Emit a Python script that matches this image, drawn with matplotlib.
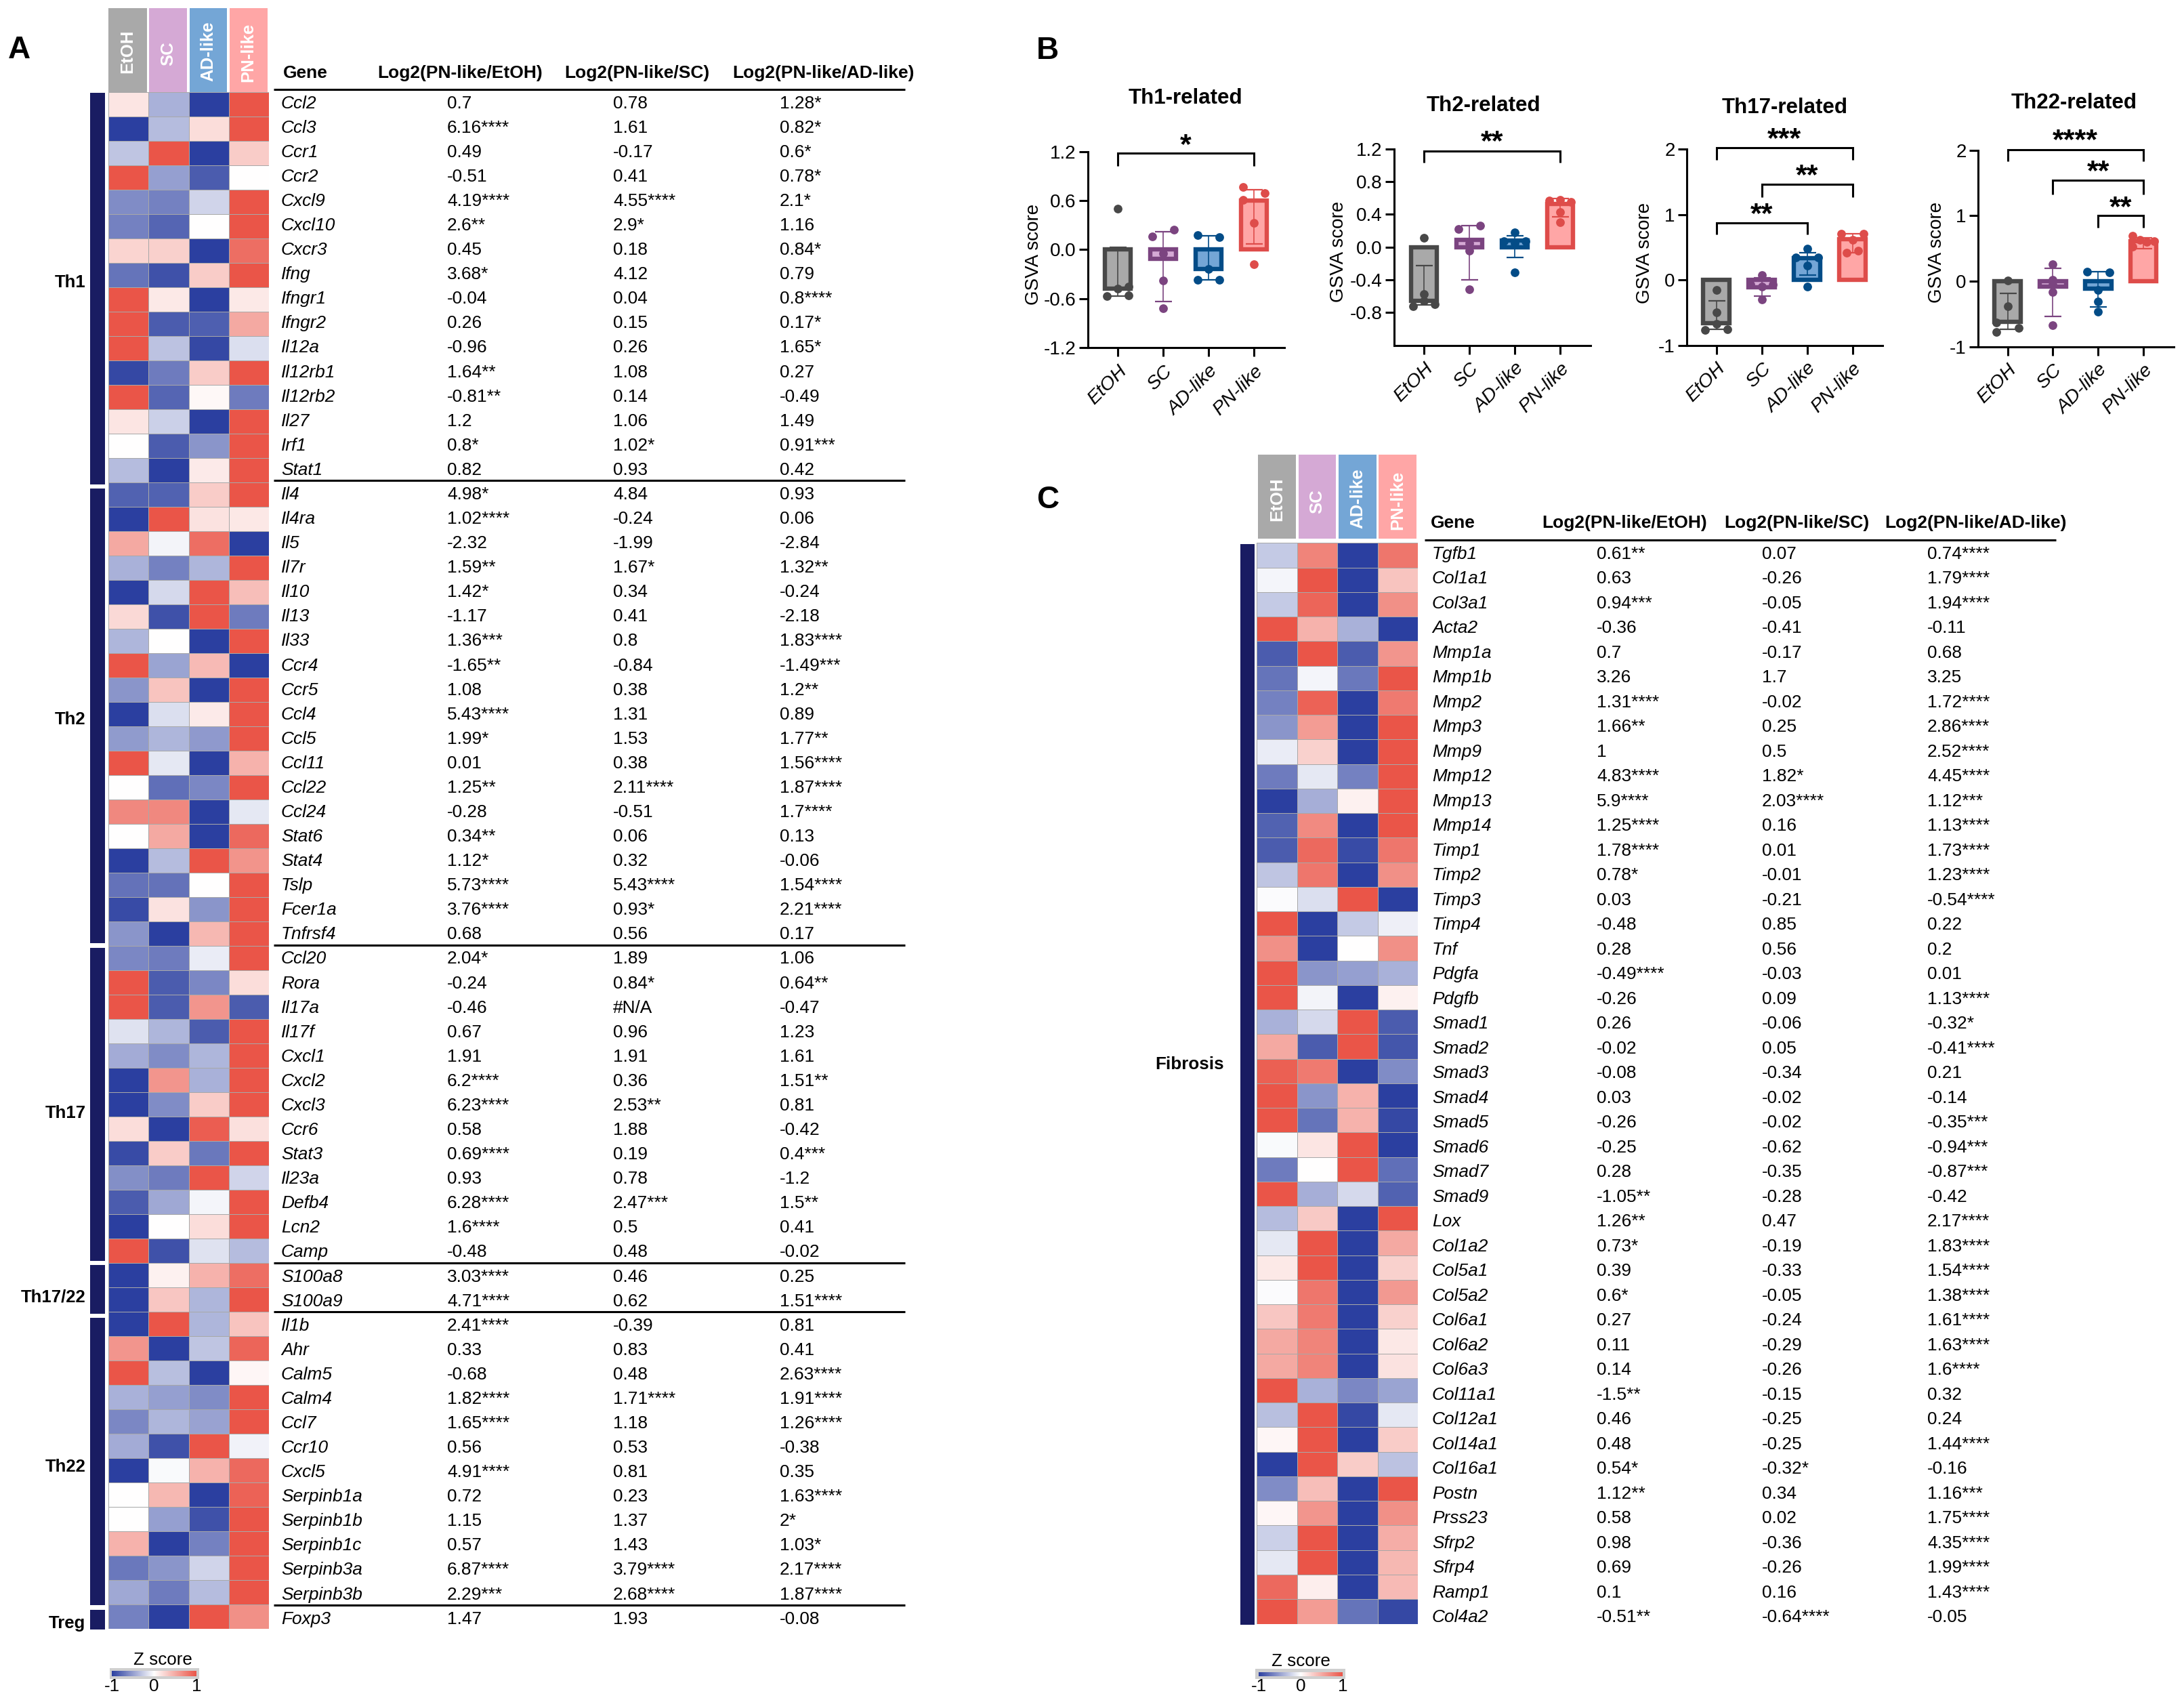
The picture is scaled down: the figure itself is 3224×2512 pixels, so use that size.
import matplotlib
matplotlib.use("Agg")
import matplotlib.pyplot as plt
import numpy as np
from matplotlib.colors import LinearSegmentedColormap
from matplotlib.patches import Rectangle
from matplotlib.transforms import ScaledTranslation

plt.rcParams['font.family'] = ['Liberation Sans', 'DejaVu Sans']

W, H = 3224, 2512
GROUPS = ['EtOH', 'SC', 'AD-like', 'PN-like']

# ---------- Panel A data ----------
GENES_A = ['Ccl2','Ccl3','Ccr1','Ccr2','Cxcl9','Cxcl10','Cxcr3','Ifng','Ifngr1','Ifngr2','Il12a','Il12rb1','Il12rb2','Il27','Irf1','Stat1',
 'Il4','Il4ra','Il5','Il7r','Il10','Il13','Il33','Ccr4','Ccr5','Ccl4','Ccl5','Ccl11','Ccl22','Ccl24','Stat6','Stat4','Tslp','Fcer1a','Tnfrsf4',
 'Ccl20','Rora','Il17a','Il17f','Cxcl1','Cxcl2','Cxcl3','Ccr6','Stat3','Il23a','Defb4','Lcn2','Camp',
 'S100a8','S100a9',
 'Il1b','Ahr','Calm5','Calm4','Ccl7','Ccr10','Cxcl5','Serpinb1a','Serpinb1b','Serpinb1c','Serpinb3a','Serpinb3b',
 'Foxp3']
ETOH_A = ['0.7','6.16****','0.49','-0.51','4.19****','2.6**','0.45','3.68*','-0.04','0.26','-0.96','1.64**','-0.81**','1.2','0.8*','0.82',
 '4.98*','1.02****','-2.32','1.59**','1.42*','-1.17','1.36***','-1.65**','1.08','5.43****','1.99*','0.01','1.25**','-0.28','0.34**','1.12*','5.73****','3.76****','0.68',
 '2.04*','-0.24','-0.46','0.67','1.91','6.2****','6.23****','0.58','0.69****','0.93','6.28****','1.6****','-0.48',
 '3.03****','4.71****',
 '2.41****','0.33','-0.68','1.82****','1.65****','0.56','4.91****','0.72','1.15','0.57','6.87****','2.29***',
 '1.47']
SC_A = ['0.78','1.61','-0.17','0.41','4.55****','2.9*','0.18','4.12','0.04','0.15','0.26','1.08','0.14','1.06','1.02*','0.93',
 '4.84','-0.24','-1.99','1.67*','0.34','0.41','0.8','-0.84','0.38','1.31','1.53','0.38','2.11****','-0.51','0.06','0.32','5.43****','0.93*','0.56',
 '1.89','0.84*','#N/A','0.96','1.91','0.36','2.53**','1.88','0.19','0.78','2.47***','0.5','0.48',
 '0.46','0.62',
 '-0.39','0.83','0.48','1.71****','1.18','0.53','0.81','0.23','1.37','1.43','3.79****','2.68****',
 '1.93']
AD_A = ['1.28*','0.82*','0.6*','0.78*','2.1*','1.16','0.84*','0.79','0.8****','0.17*','1.65*','0.27','-0.49','1.49','0.91***','0.42',
 '0.93','0.06','-2.84','1.32**','-0.24','-2.18','1.83****','-1.49***','1.2**','0.89','1.77**','1.56****','1.87****','1.7****','0.13','-0.06','1.54****','2.21****','0.17',
 '1.06','0.64**','-0.47','1.23','1.61','1.51**','0.81','-0.42','0.4***','-1.2','1.5**','0.41','-0.02',
 '0.25','1.51****',
 '0.81','0.41','2.63****','1.91****','1.26****','-0.38','0.35','1.63****','2*','1.03*','2.17****','1.87****',
 '-0.08']
Z_A = [
 [.15,-.4,-1,1],[-1,-.35,.2,1],[-.3,1,-1,.3],[1,-.5,-.85,0],[-.6,-.65,-.22,1],[-.65,-.8,0,1],[.25,.28,-1,.85],[-.72,-.9,.3,1],
 [1,.13,-1,.13],[1,-.85,-.83,.5],[1,-.32,-.95,-.17],[-.95,-.68,.3,1],[1,-.8,.04,-.68],[.15,-.25,-1,1],[0,-.85,-.55,1],[-.35,-1,.12,1],
 [-.82,-.82,.3,1],[-1,1,.17,.14],[.5,-.06,.85,-1],[-.4,-.65,-.38,1],[-1,-.2,1,.38],[.22,-.9,1,-.68],[-.38,0,-1,1],[1,-.47,.4,-1],
 [-.55,.35,-1,1],[-1,-.17,.12,1],[-.52,-.38,-.53,1],[1,-.12,-1,.45],[0,-.75,-.62,1],[.7,.7,-1,-.12],[0,.5,-1,.88],[-1,-.35,1,.63],
 [-.73,-.73,0,1],[-.93,.17,-.55,1],[-.55,-1,.42,1],
 [-.62,-.68,-.1,1],[1,-.85,-.62,.2],[1,-.85,.62,-.85],[-.15,-.38,-.85,1],[-.43,-.6,-.38,1],[-1,.62,-.4,1],[-1,-.6,.3,1],[.2,-1,.95,.18],
 [-.93,.3,-.7,1],[-.58,-.68,1,-.22],[-.85,-.45,-.05,1],[-1,0,.2,1],[1,-.9,-.15,-.35],
 [-1,.08,.45,.85],[-1,.33,-.38,1],
 [-1,1,-.38,.35],[.62,-1,-.3,.9],[1,-.33,-1,.05],[-.4,-.5,-.6,1],[-.62,-.38,-.48,1],[-.43,-.9,1,-.07],[-1,-.03,.45,.88],[0,.42,-1,.92],
 [0,-.5,-.9,1],[.45,-1,-.65,1],[-.7,-.55,-.22,1],[-.45,-.68,-.35,1],
 [-.65,-1,1,.65]]
MODULES_A = ['Th1', 'Th2', 'Th17', 'Th17/22', 'Th22', 'Treg']
MODULE_SIZES_A = [16, 19, 13, 2, 12, 1]

# ---------- Panel C data ----------
GENES_C = ['Tgfb1','Col1a1','Col3a1','Acta2','Mmp1a','Mmp1b','Mmp2','Mmp3','Mmp9','Mmp12','Mmp13','Mmp14','Timp1','Timp2','Timp3','Timp4','Tnf','Pdgfa','Pdgfb',
 'Smad1','Smad2','Smad3','Smad4','Smad5','Smad6','Smad7','Smad9','Lox','Col1a2','Col5a1','Col5a2','Col6a1','Col6a2','Col6a3','Col11a1','Col12a1','Col14a1','Col16a1',
 'Postn','Prss23','Sfrp2','Sfrp4','Ramp1','Col4a2']
ETOH_C = ['0.61**','0.63','0.94***','-0.36','0.7','3.26','1.31****','1.66**','1','4.83****','5.9****','1.25****','1.78****','0.78*','0.03','-0.48','0.28','-0.49****','-0.26',
 '0.26','-0.02','-0.08','0.03','-0.26','-0.25','0.28','-1.05**','1.26**','0.73*','0.39','0.6*','0.27','0.11','0.14','-1.5**','0.46','0.48','0.54*',
 '1.12**','0.58','0.98','0.69','0.1','-0.51**']
SC_C = ['0.07','-0.26','-0.05','-0.41','-0.17','1.7','-0.02','0.25','0.5','1.82*','2.03****','0.16','0.01','-0.01','-0.21','0.85','0.56','-0.03','0.09',
 '-0.06','0.05','-0.34','-0.02','-0.02','-0.62','-0.35','-0.28','0.47','-0.19','-0.33','-0.05','-0.24','-0.29','-0.26','-0.15','-0.25','-0.25','-0.32*',
 '0.34','0.02','-0.36','-0.26','0.16','-0.64****']
AD_C = ['0.74****','1.79****','1.94****','-0.11','0.68','3.25','1.72****','2.86****','2.52****','4.45****','1.12***','1.13****','1.73****','1.23****','-0.54****','0.22','0.2','0.01','1.13****',
 '-0.32*','-0.41****','0.21','-0.14','-0.35***','-0.94***','-0.87***','-0.42','2.17****','1.83****','1.54****','1.38****','1.61****','1.63****','1.6****','0.32','0.24','1.44****','-0.16',
 '1.16***','1.75****','4.35****','1.99****','1.43****','-0.05']
Z_C = [
 [-.28,.72,-1,.8],[-.05,1,-1,.35],[-.28,.9,-1,.65],[1,.45,-.4,-1],[-.85,1,-.85,.62],[-.72,-.05,-.7,1],[-.65,.92,-1,.78],[-.55,.58,-1,1],
 [-.1,.27,-1,1],[-.68,-.12,-.65,1],[-1,-.42,.08,1],[-.82,.68,-1,1],[-.85,.88,-.93,.8],[-.3,.8,-1,.65],[-.02,-.17,1,-1],[1,-1,-.28,-.08],
 [.65,-1,0,.65],[1,-.55,-.5,-.4],[1,-.06,-1,.08],[-.4,-.2,1,-.85],[.5,-.85,1,-.88],[.93,.78,-1,-.6],[1,-.55,.45,-1],[1,-.72,.45,-.95],
 [-.03,.15,1,-1],[-.68,0,1,-.75],[1,-.42,-.2,-.82],[-.35,.32,-1,1],[-.12,1,-1,.5],[.13,1,-1,.27],[-.02,.8,-1,.6],[.33,.78,-1,.27],
 [.5,.72,-1,.14],[.5,.72,-1,.17],[1,-.4,-.62,-.47],[-.33,1,-.95,-.12],[.05,1,-1,.3],[-1,1,.3,-.32],[-.6,.38,-1,1],[.05,.62,-1,.65],
 [-.25,1,-1,.48],[-.12,1,-1,.42],[.88,.1,-1,.4],[1,.58,-.72,-.95]]

# ---------- Panel B data ----------
TH1_MEAN = [-0.48, -0.11, -0.24, 0.60]
TH1_HI = [0.03, 0.22, 0.17, 0.73]
TH1_LO = [-0.57, -0.64, -0.37, 0.07]
TH1_POINTS = [[0.50,-0.45,-0.48,-0.57,-0.56],[0.24,0.16,-0.05,-0.38,-0.72],[0.18,0.15,-0.24,-0.37,-0.37],[0.77,0.69,0.61,0.33,-0.18]]
TH1_SLOTS = [[0,1,0,-1,1],[1,-1,0,0,0],[-1,1,0,-1,1],[-1,1,-1,0,0]]

TH2_MEAN = [-0.66, 0.09, 0.08, 0.53]
TH2_HI = [-0.23, 0.26, 0.14, 0.59]
TH2_LO = [-0.71, -0.40, -0.13, 0.37]
TH2_POINTS = [[0.11,-0.57,-0.66,-0.72,-0.70],[0.26,0.22,0.05,-0.04,-0.52],[0.18,0.07,0.07,0.05,-0.31],[0.57,0.58,0.55,0.43,0.30]]
TH2_SLOTS = [[0,0,0,-1,1],[1,-1,0,0,0],[0,-1,1,0,0],[-1,0,1,0,0]]

TH17_MEAN = [-0.66, -0.11, 0.33, 0.62]
TH17_HI = [-0.32, 0.03, 0.41, 0.70]
TH17_LO = [-0.76, -0.25, 0.07, 0.41]
TH17_POINTS = [[-0.15,-0.50,-0.67,-0.77,-0.76],[0.07,-0.07,-0.07,-0.10,-0.30],[0.48,0.34,0.34,0.22,-0.10],[0.71,0.70,0.61,0.45,0.41]]
TH17_SLOTS = [[0,0,0,-1,1],[0,-1,1,0,0],[0,-1,1,0,0],[-1,1,0,.5,-.5]]

TH22_MEAN = [-0.62, -0.08, -0.11, 0.61]
TH22_HI = [-0.19, 0.20, 0.14, 0.66]
TH22_LO = [-0.74, -0.54, -0.39, 0.50]
TH22_POINTS = [[0.01,-0.38,-0.63,-0.71,-0.78],[0.26,0.02,-0.05,-0.17,-0.67],[0.14,0.13,-0.13,-0.31,-0.47],[0.69,0.63,0.60,0.61,0.53]]
TH22_SLOTS = [[0,0,-1,1,-1],[0,0,0,0,0],[-1,1,0,0,0],[-1,-.33,.33,1,-1]]

TH1_SIG = [(0, 3, 1.177, 1.02, '*', 1.34)]
TH2_SIG = [(0, 3, 1.176, 1.03, '**', 1.35)]
TH17_SIG = [(0, 3, 2.02, 1.83, '***', 2.23), (1, 3, 1.457, 1.265, '**', 1.67), (0, 2, 0.876, 0.69, '**', 1.08)]
TH22_SIG = [(0, 3, 2.01, 1.83, '****', 2.23), (1, 3, 1.54, 1.33, '**', 1.75), (2, 3, 1.007, 0.815, '**', 1.20)]

# ---------- style ----------
FILLS = ['#A9A9A9', '#D5A9D5', '#74A6D6', '#FFA6A6']
EDGES = ['#484848', '#7B4480', '#034C87', '#DE4C4A']
NAVY = '#191C62'
CMAP = LinearSegmentedColormap.from_list('z', ['#2B3FA0', '#FFFFFF', '#EA5548'])
TXT = '#000000'

fig = plt.figure(figsize=(W/100, H/100), dpi=100, facecolor='white')


def px_axes(l, t, r, b, **kw):
    return fig.add_axes([l/W, 1-b/H, (r-l)/W, (b-t)/H], **kw)


ov = fig.add_axes([0, 0, 1, 1])
ov.set_xlim(0, W)
ov.set_ylim(H, 0)
ov.axis('off')


def heat_panel(z, genes, cols, heat, tiles, tile_y, tile_text_y, tbl, hdr, cbar, key_title_x):
    rows = len(genes)
    l, t, r, b = heat
    ax = px_axes(l, t, r, b)
    mesh = ax.pcolormesh(np.array(z), cmap=CMAP, vmin=-1, vmax=1, edgecolors='#a8a8a8', linewidth=0.6)
    ax.set_ylim(rows, 0)
    ax.axis('off')
    for g, (x0, x1), c, ty in zip(GROUPS, tiles, FILLS, tile_text_y):
        ov.add_patch(Rectangle((x0, tile_y[0]), x1-x0, tile_y[1]-tile_y[0], fc=c, ec='none'))
        ov.text((x0+x1)/2, ty, g, color='white', rotation=90, ha='center', va='center',
                fontsize=18.5, fontweight='bold')
    gx, cx, base, step = tbl
    for i, g in enumerate(genes):
        y = base + step*i
        ov.text(gx, y, g, style='italic', fontsize=18.9, va='baseline', color=TXT)
        for x, col in zip(cx, cols):
            ov.text(x, y, col[i], fontsize=18.9, va='baseline', color=TXT)
    hx, hy, labels = hdr
    for x, s in zip(hx, labels):
        ov.text(x, hy, s, fontsize=19, fontweight='bold', va='baseline', color=TXT)
    # colour key
    (bgx0, bgx1, bgy0, bgy1), (cx0, cx1, cy0, cy1) = cbar
    ov.add_patch(Rectangle((bgx0, bgy0), bgx1-bgx0, bgy1-bgy0, fc='#CFCFCF', ec='none'))
    cax = px_axes(cx0, cy0, cx1, cy1)
    cb = fig.colorbar(mesh, cax=cax, orientation='horizontal', ticks=[-1, 0, 1])
    cb.outline.set_visible(False)
    cb.ax.tick_params(length=0, labelsize=18.7, pad=2.5, colors=TXT)
    cb.ax.set_xticklabels(['-1', '0', '1'])
    cax.set_title('Z score', fontsize=18.7, pad=6.5, color=TXT, x=(key_title_x-cx0)/(cx1-cx0))
    return ax


COLS_HDR = ['Gene', 'Log2(PN-like/EtOH)', 'Log2(PN-like/SC)', 'Log2(PN-like/AD-like)']

heat_panel(Z_A, GENES_A, [ETOH_A, SC_A, AD_A], (160, 136, 397.5, 2404),
           [(160, 216.5), (220, 275.5), (279.5, 335), (338.5, 394.6)], (12.4, 135.5), [76, 79, 76, 77.5],
           (415, (660, 905, 1151), 159.7, 36.08),
           ((418, 557, 833, 1081), 114.8, COLS_HDR),
           ((161.6, 294, 2462, 2478), (165, 290, 2466, 2474)), 240)

heat_panel(Z_C, GENES_C, [ETOH_C, SC_C, AD_C], (1855, 801.4, 2093.4, 2396.5),
           [(1857, 1913), (1916.6, 1972.4), (1976, 2031.8), (2035, 2091)], (671, 794.5), [736.7, 740, 736, 738],
           (2114, (2357, 2601, 2845), 824.7, 36.5),
           ((2112, 2276, 2545, 2782), 779, COLS_HDR),
           ((1853, 1986, 2463, 2478), (1858, 1982, 2468, 2474)), 1920)

# table rules, panel A (dividers follow the module sizes)
for yr in [132] + [150 + 36.08*n - 18 for n in np.cumsum(MODULE_SIZES_A)[:-1]]:
    ov.plot([404, 1336], [yr, yr], color='black', lw=2.2, solid_capstyle='butt')
ov.plot([2103, 3035], [797, 797], color='black', lw=2.2, solid_capstyle='butt')

# module side bars, panel A
A_BAR_SPANS = [(137, 715), (721, 1392), (1399, 1861), (1867, 1939), (1945, 2369), (2376, 2405)]
A_LABEL_Y = [424.5, 1069, 1650, 1921, 2172, 2403]
for name, (y0, y1), ly in zip(MODULES_A, A_BAR_SPANS, A_LABEL_Y):
    ov.add_patch(Rectangle((133, y0), 21.5, y1-y0, fc=NAVY, ec='none'))
    ov.text(126.5, ly, name, ha='right', va='baseline', fontsize=18.5, fontweight='bold', color=TXT)
ov.add_patch(Rectangle((1831, 802.6), 21, 1595.4, fc=NAVY, ec='none'))
ov.text(1807, 1578, 'Fibrosis', ha='right', va='baseline', fontsize=18.7, fontweight='bold', color=TXT)

# panel letters
for s, x, y in [('A', 12, 86), ('B', 1530, 87), ('C', 1530, 750)]:
    ov.text(x, y, s, fontsize=33, fontweight='bold', va='baseline', color='black')


def box_panel(box, ticks_px, ylim, yticks, yfmt, title, title_xy, ylab_xy,
              mean, hi, lo, points, slots, sig):
    l, t, r, b = box
    ax = px_axes(l, t, r, b)
    unit = (ticks_px[3]-ticks_px[0])/3
    ax.set_xlim((l-ticks_px[0])/unit, (r-ticks_px[0])/unit)
    ax.set_ylim(*ylim)
    ax.patch.set_alpha(0)
    pos = np.arange(4)
    ax.bar(pos, mean, width=0.58, color=FILLS, edgecolor=EDGES, linewidth=4.6, zorder=2, clip_on=False)
    for i in pos:
        mid = (hi[i]+lo[i])/2
        ax.errorbar([i], [mid], yerr=[[mid-lo[i]], [hi[i]-mid]], color=EDGES[i], lw=1.2,
                    capsize=9, capthick=1.6, zorder=3, clip_on=False)
        xs = i + 0.245*np.array(slots[i])
        ax.scatter(xs, points[i], s=85, color=EDGES[i], linewidths=0, zorder=4, clip_on=False)
    for s in ('top', 'right'):
        ax.spines[s].set_visible(False)
    for s in ('left', 'bottom'):
        ax.spines[s].set_linewidth(2.2)
    ax.set_xticks(pos)
    ax.set_xticklabels(GROUPS, rotation=45, ha='right', rotation_mode='anchor', style='italic', fontsize=20.5, color=TXT)
    shift = ScaledTranslation(-6/100, 0, fig.dpi_scale_trans)
    for lab in ax.get_xticklabels():
        lab.set_transform(lab.get_transform() + shift)
    ax.set_yticks(yticks)
    ax.set_yticklabels([yfmt.format(v) for v in yticks], fontsize=20, color=TXT)
    ax.tick_params(axis='x', length=9.4, width=2.2, pad=6)
    ax.tick_params(axis='y', length=9.4, width=2.2, pad=3)
    ax.set_ylabel('GSVA score', fontsize=20, va='center', color=TXT)
    ax.yaxis.set_label_coords((ylab_xy[0]+3-l)/(r-l), (b-ylab_xy[1])/(b-t))
    ax.set_title(title, fontsize=22.5, fontweight='bold', color=TXT,
                 x=(title_xy[0]-l)/(r-l), pad=(t-title_xy[1])*0.72)
    for x0, x1, top, leg, stars, sy in sig:
        ax.plot([x0, x0, x1, x1], [leg, top, top, leg], color='black', lw=2.2, clip_on=False,
                solid_joinstyle='miter', solid_capstyle='butt', zorder=5)
        ax.annotate(stars, xy=((x0+x1)/2, sy), xytext=(0, -14), textcoords='offset points',
                    ha='center', va='baseline', fontsize=31, fontweight='bold', color='black',
                    annotation_clip=False)
    return ax


box_panel((1606, 223.7, 1896, 513), (1650, 1717, 1784, 1851), (-1.2, 1.2), [1.2, 0.6, 0.0, -0.6, -1.2], '{:.1f}',
          'Th1-related', (1750, 153), (1523, 375), TH1_MEAN, TH1_HI, TH1_LO, TH1_POINTS, TH1_SLOTS, TH1_SIG)
box_panel((2058, 219.8, 2347.5, 509.6), (2102, 2169, 2236, 2303), (-1.2, 1.2), [1.2, 0.8, 0.4, 0.0, -0.4, -0.8], '{:.1f}',
          'Th2-related', (2189.5, 163.6), (1973, 371), TH2_MEAN, TH2_HI, TH2_LO, TH2_POINTS, TH2_SLOTS, TH2_SIG)
box_panel((2490, 220, 2779, 509.6), (2533.6, 2600, 2667, 2734.5), (-1, 2), [2, 1, 0, -1], '{:d}',
          'Th17-related', (2634.6, 167), (2425, 373), TH17_MEAN, TH17_HI, TH17_LO, TH17_POINTS, TH17_SLOTS, TH17_SIG)
box_panel((2920, 221.8, 3208.7, 511.6), (2963.5, 3030.8, 3097, 3164), (-1, 2), [2, 1, 0, -1], '{:d}',
          'Th22-related', (3061.7, 160.5), (2856, 372), TH22_MEAN, TH22_HI, TH22_LO, TH22_POINTS, TH22_SLOTS, TH22_SIG)

fig.savefig('out.png', dpi=100, facecolor='white')
